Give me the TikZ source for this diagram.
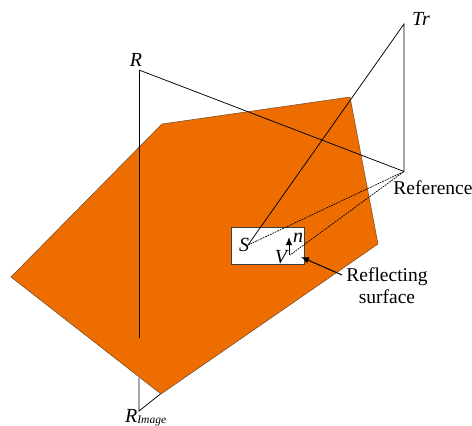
\documentclass[tikz,border=0pt]{standalone}
\usepackage{fontspec}
\setmainfont{Liberation Serif}
\definecolor{PlateOrange}{HTML}{ED6D00}
\definecolor{PlateEdge}{HTML}{6E4A2A}
\usetikzlibrary{positioning,calc,arrows.meta}
\tikzset{
  plate/.style={draw=PlateEdge,fill=PlateOrange,line width=0.5pt},
  patch/.style={draw=black!75,fill=white,line width=0.9pt},
  ray/.style={draw=black,line width=0.75pt},
  rayd/.style={draw=black,line width=0.7pt,dash pattern=on 1.8pt off 0.9pt},
  point/.style={inner sep=0pt,font=\fontsize{20}{22}\selectfont\itshape},
  lbl/.style={inner sep=0pt,align=center,font=\fontsize{19.5}{22}\selectfont},
  tip/.style={-{Latex[length=8pt,width=6.5pt]},draw=black,line width=1pt},
}
\begin{document}
\begin{tikzpicture}[x=1pt,y=-1pt]
\useasboundingbox (0,0) rectangle (472,426);
% points
\coordinate (rf) at (404,171.5);
\coordinate (tx) at (404,24);
\coordinate (rx) at (139,70);
\coordinate (ri) at (139,411);
\coordinate (sp) at (248,245);
\coordinate (vp) at (290,255);
\coordinate (rxe) at (139,338);
\coordinate (rie) at (139,378);
\coordinate (ric) at (161,393.5);
\coordinate (nt) at (289,237);
\coordinate (ar) at (342,275);
\coordinate (ae) at (301,257);
% image part sits under the plate
\draw[ray] (rie) -- (ri) -- (ric);
\draw[plate] (162,124) -- (350,97) -- (378,244) -- (161,394) -- (11,277) -- cycle;
\node[patch,minimum width=73pt,minimum height=37pt,inner sep=0pt] (ps) at (267.5,245.5) {};
\draw[ray] (rx) -- (rxe);
\draw[ray] (rx) -- (rf) -- (tx) -- (sp);
\draw[rayd] (sp) -- (rf) -- (vp);
\draw[tip] (vp) ++(-1,0) -- (nt);
\draw[tip] (ar) -- (ae);
\node[point] (lr) at (136,60) {R};
\node[point] (lt) at (421,19) {Tr};
\node[point] (ls) at (244,245) {S};
\node[point] (lv) at (281,257) {V};
\node[point] (ln) at (298,238) {n};
\node[point,anchor=base west] (li) at (125,422) {R\raisebox{-1pt}{\fontsize{11.5}{12}\selectfont Image}};
\node[lbl] (lre) at (433,188) {Reference};
\node[lbl] (lrs) at (387,286) {Reflecting\\surface};
\end{tikzpicture}
\end{document}
